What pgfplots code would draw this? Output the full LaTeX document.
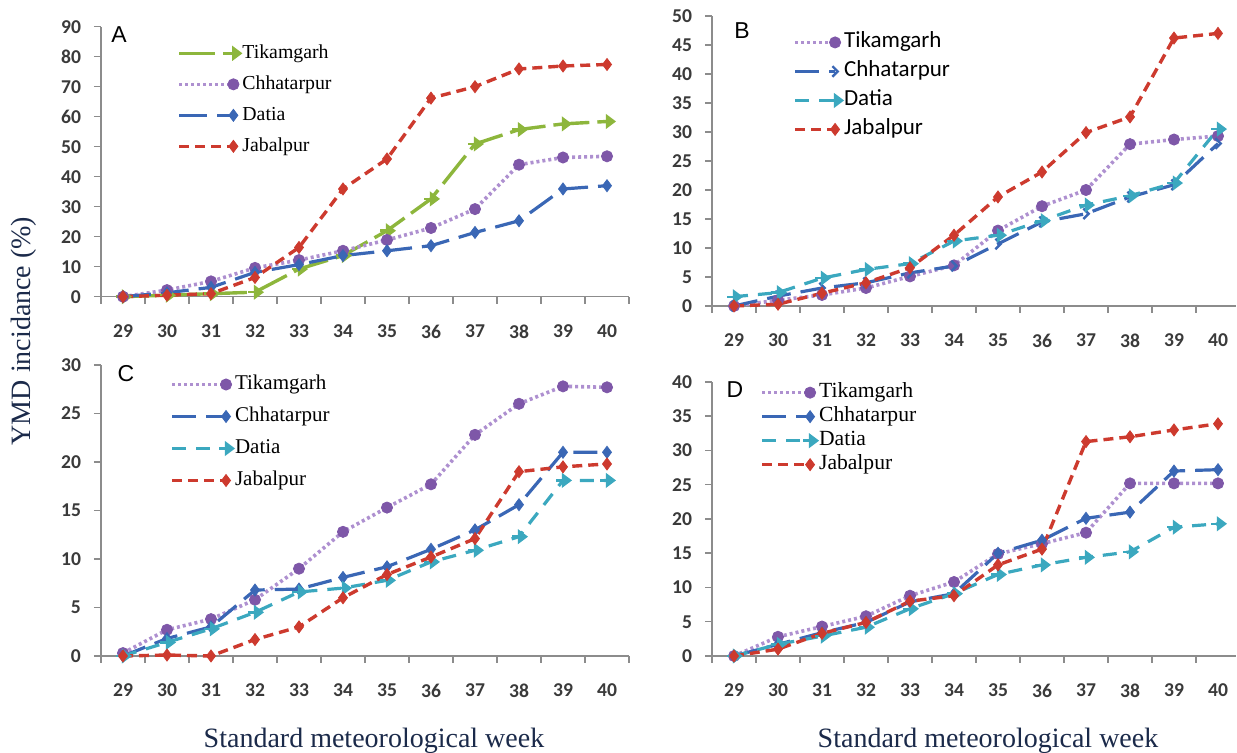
\documentclass[border=0pt]{standalone}
\usepackage{fontspec}
\setmainfont{Liberation Serif}
\newfontfamily\calfont{Carlito}
\newfontfamily\arialfont{Liberation Sans}
\usepackage{pgfplots}
\pgfplotsset{compat=1.18}
\definecolor{tgreen}{HTML}{8DB63C}
\definecolor{purpL}{HTML}{AE90D0}
\definecolor{purpD}{HTML}{7E57A8}
\definecolor{blueL}{HTML}{3A67B5}
\definecolor{tealc}{HTML}{3BA8BF}
\definecolor{redL}{HTML}{CD3A2E}
\definecolor{axgray}{HTML}{8C8C8C}
\definecolor{tickgray}{HTML}{3A3A3A}
\definecolor{labnavy}{HTML}{1B2A4A}
\pgfdeclareplotmark{rarr}{%
  \pgfpathmoveto{\pgfqpoint{-\pgfplotmarksize}{0pt}}%
  \pgfpathlineto{\pgfqpoint{0.2\pgfplotmarksize}{0pt}}%
  \pgfusepathqstroke
  \pgfpathmoveto{\pgfqpoint{\pgfplotmarksize}{0pt}}%
  \pgfpathlineto{\pgfqpoint{0pt}{0.75\pgfplotmarksize}}%
  \pgfpathlineto{\pgfqpoint{0pt}{-0.75\pgfplotmarksize}}%
  \pgfpathclose
  \pgfusepathqfillstroke
}
\pgfdeclareplotmark{chev}{%
  \pgfpathmoveto{\pgfqpoint{-0.4\pgfplotmarksize}{0.8\pgfplotmarksize}}%
  \pgfpathlineto{\pgfqpoint{0.4\pgfplotmarksize}{0pt}}%
  \pgfpathlineto{\pgfqpoint{-0.4\pgfplotmarksize}{-0.8\pgfplotmarksize}}%
  \pgfusepathqstroke
}
\pgfplotsset{
  common/.style={
    scale only axis, axis lines=left,
    axis line style={-, draw=axgray, line width=0.75pt},
    xmin=28.5, xtick={29,...,40}, minor xtick={28.5,29.5,...,40.5},
    major x tick style={draw=none},
    minor x tick style={draw=axgray, line width=0.75pt},
    ytick style={draw=axgray, line width=0.75pt},
    tick align=outside, major tick length=3.5pt, minor tick length=3.5pt,
    ymin=0,
    tick label style={font=\calfont\bfseries\fontsize{9.8}{10}\selectfont, text=tickgray},
    /pgf/number format/assume math mode=true,
    xticklabel style={yshift=-7pt}, yticklabel style={xshift=-3pt},
    clip=false,
    legend cell align=left,
    legend image code/.code={\draw[mark repeat=2, mark phase=2, ##1] plot coordinates {(0pt,0pt) (27pt,0pt)};},
    legend style={draw=none, fill=none, anchor=north west, column sep=0pt,
      nodes={inner xsep=1pt, inner ysep=0pt, text height=7pt, text depth=2pt}},
  },
  shortleg/.style={legend image code/.code={\draw[mark repeat=2, mark phase=2, ##1] plot coordinates {(0pt,0pt) (#1,0pt)};}},
  jab/.style={redL, line width=1.7pt, dash pattern=on 5pt off 3pt, mark=diamond*, mark size=3pt,
    mark options={solid, fill=redL, draw=redL, line width=0.4pt}},
  tikP/.style={purpL, line width=1.8pt, dash pattern=on 1.5pt off 1.5pt, mark=*, mark size=2.8pt,
    mark options={solid, fill=purpD, draw=purpD, line width=0.4pt}},
  chhB/.style={blueL, line width=1.6pt, dash pattern=on 12pt off 5pt, mark=diamond*, mark size=3pt,
    mark options={solid, fill=blueL, draw=blueL, line width=0.4pt}},
  datT/.style={tealc, line width=1.6pt, dash pattern=on 7pt off 5pt, mark=rarr, mark size=3.5pt,
    mark options={solid, fill=tealc, draw=tealc, line width=1.2pt}},
}
\begin{document}
\begin{tikzpicture}
\useasboundingbox (0,0) rectangle (618.5pt,376.5pt);
% Panel A
\begin{axis}[common, at={(50.5pt,228.15pt)}, anchor=south west, width=264pt, height=135pt,
  xmax=40.5, ymax=90, ytick={0,10,...,90},
  legend style={at={(0.133,0.951)}, row sep=6.5pt, font=\fontsize{9.9}{10}\selectfont}]
\addplot[tgreen, line width=1.7pt, dash pattern=on 18pt off 4pt, mark=rarr, mark size=3.5pt,
  mark options={solid, fill=tgreen, draw=tgreen, line width=1.2pt}] coordinates {
(29,0) (30,0.5) (31,1) (32,1.5) (33,9.2) (34,13.7) (35,22) (36,32.6) (37,50.9) (38,55.7) (39,57.6) (40,58.4)};
\addlegendentry{Tikamgarh}
\addplot[tikP] coordinates {
(29,0) (30,2.2) (31,5.1) (32,9.6) (33,12.2) (34,15.3) (35,18.9) (36,22.9) (37,29.2) (38,44) (39,46.4) (40,46.8)};
\addlegendentry{Chhatarpur}
\addplot[blueL, line width=1.6pt, dash pattern=on 14pt off 5pt, mark=diamond*, mark size=3pt,
  mark options={solid, fill=blueL, draw=blueL, line width=0.4pt}] coordinates {
(29,0) (30,1.3) (31,3.1) (32,8.1) (33,10.7) (34,13.7) (35,15.3) (36,17) (37,21.4) (38,25.3) (39,35.9) (40,37)};
\addlegendentry{Datia}
\addplot[jab] coordinates {
(29,0) (30,0.5) (31,1) (32,6.4) (33,16.4) (34,35.9) (35,45.9) (36,66.2) (37,70) (38,75.9) (39,76.9) (40,77.4)};
\addlegendentry{Jabalpur}
\end{axis}
% Panel B
\begin{axis}[common, shortleg=20pt, at={(356pt,223.5pt)}, anchor=south west, width=261.8pt, height=145pt,
  xmax=40.4, ymax=50, ytick={0,5,...,50},
  legend style={at={(0.143,0.955)}, row sep=5.5pt, font=\calfont\fontsize{11.5}{12}\selectfont}]
\addplot[tikP] coordinates {
(29,0) (30,1.0) (31,1.9) (32,3.1) (33,5.1) (34,7) (35,13) (36,17.2) (37,20) (38,27.9) (39,28.7) (40,29.3)};
\addlegendentry{Tikamgarh}
\addplot[blueL, line width=1.6pt, dash pattern=on 12pt off 5pt, mark=chev, mark size=3.3pt,
  mark options={solid, draw=blueL, line width=1.2pt}] coordinates {
(29,0) (30,1.7) (31,3.1) (32,4) (33,5.7) (34,6.9) (35,10.7) (36,14.5) (37,15.9) (38,18.8) (39,20.9) (40,28)};
\addlegendentry{Chhatarpur}
\addplot[datT] coordinates {
(29,1.6) (30,2.3) (31,4.8) (32,6.3) (33,7.3) (34,11.2) (35,12.2) (36,14.7) (37,17.4) (38,19) (39,21.2) (40,30.5)};
\addlegendentry{Datia}
\addplot[jab] coordinates {
(29,0) (30,0.3) (31,2.2) (32,4) (33,6.6) (34,12.2) (35,18.8) (36,23.1) (37,29.9) (38,32.6) (39,46.2) (40,47)};
\addlegendentry{Jabalpur}
\end{axis}
% Panel C
\begin{axis}[common, at={(50.5pt,48.5pt)}, anchor=south west, width=264pt, height=145.5pt,
  xmax=40.5, ymax=30, ytick={0,5,...,30},
  legend style={at={(0.119,0.979)}, row sep=7pt, font=\fontsize{10.5}{11}\selectfont}]
\addplot[tikP] coordinates {
(29,0.3) (30,2.7) (31,3.8) (32,5.8) (33,9) (34,12.8) (35,15.3) (36,17.7) (37,22.8) (38,26) (39,27.8) (40,27.7)};
\addlegendentry{Tikamgarh}
\addplot[chhB] coordinates {
(29,0) (30,1.8) (31,3) (32,6.8) (33,6.9) (34,8.1) (35,9.2) (36,11) (37,13) (38,15.6) (39,21) (40,21)};
\addlegendentry{Chhatarpur}
\addplot[datT] coordinates {
(29,0) (30,1.4) (31,2.8) (32,4.5) (33,6.6) (34,7) (35,7.8) (36,9.7) (37,10.9) (38,12.3) (39,18.1) (40,18.1)};
\addlegendentry{Datia}
\addplot[jab] coordinates {
(29,0) (30,0.1) (31,0) (32,1.7) (33,3) (34,6) (35,8.4) (36,10.2) (37,12.1) (38,19) (39,19.5) (40,19.8)};
\addlegendentry{Jabalpur}
\end{axis}
% Panel D
\begin{axis}[common, shortleg=24pt, at={(356pt,48.5pt)}, anchor=south west, width=261.8pt, height=137pt,
  xmax=40.4, ymax=40, ytick={0,5,...,40},
  legend style={at={(0.080,1.01)}, row sep=3pt, font=\fontsize{10.8}{11}\selectfont}]
\addplot[tikP] coordinates {
(29,0) (30,2.8) (31,4.3) (32,5.8) (33,8.8) (34,10.8) (35,14.9) (36,16.4) (37,18) (38,25.2) (39,25.2) (40,25.2)};
\addlegendentry{Tikamgarh}
\addplot[chhB] coordinates {
(29,0) (30,1.7) (31,3.4) (32,4.9) (33,7.9) (34,9.1) (35,15) (36,16.9) (37,20.1) (38,21) (39,27) (40,27.2)};
\addlegendentry{Chhatarpur}
\addplot[datT] coordinates {
(29,0) (30,1.7) (31,2.9) (32,4.2) (33,6.9) (34,9.1) (35,11.9) (36,13.3) (37,14.4) (38,15.2) (39,18.8) (40,19.3)};
\addlegendentry{Datia}
\addplot[jab] coordinates {
(29,0) (30,1) (31,3.3) (32,4.9) (33,8) (34,8.8) (35,13.3) (36,15.6) (37,31.3) (38,32) (39,33) (40,33.9)};
\addlegendentry{Jabalpur}
\end{axis}
% texts
\node[font=\arialfont\fontsize{11.5}{12}\selectfont] at (59.5pt,359pt) {A};
\node[font=\arialfont\fontsize{11.5}{12}\selectfont] at (371pt,361pt) {B};
\node[font=\arialfont\fontsize{11.5}{12}\selectfont] at (63pt,189.5pt) {C};
\node[font=\arialfont\fontsize{11.5}{12}\selectfont] at (367.5pt,181.5pt) {D};
\node[rotate=90, font=\fontsize{14}{15}\selectfont, text=labnavy] at (12pt,211pt) {YMD incidance (\%)};
\node[font=\fontsize{14}{15}\selectfont, text=labnavy] at (187pt,6pt) {Standard meteorological week};
\node[font=\fontsize{14}{15}\selectfont, text=labnavy] at (494pt,6pt) {Standard meteorological week};
\end{tikzpicture}
\end{document}
